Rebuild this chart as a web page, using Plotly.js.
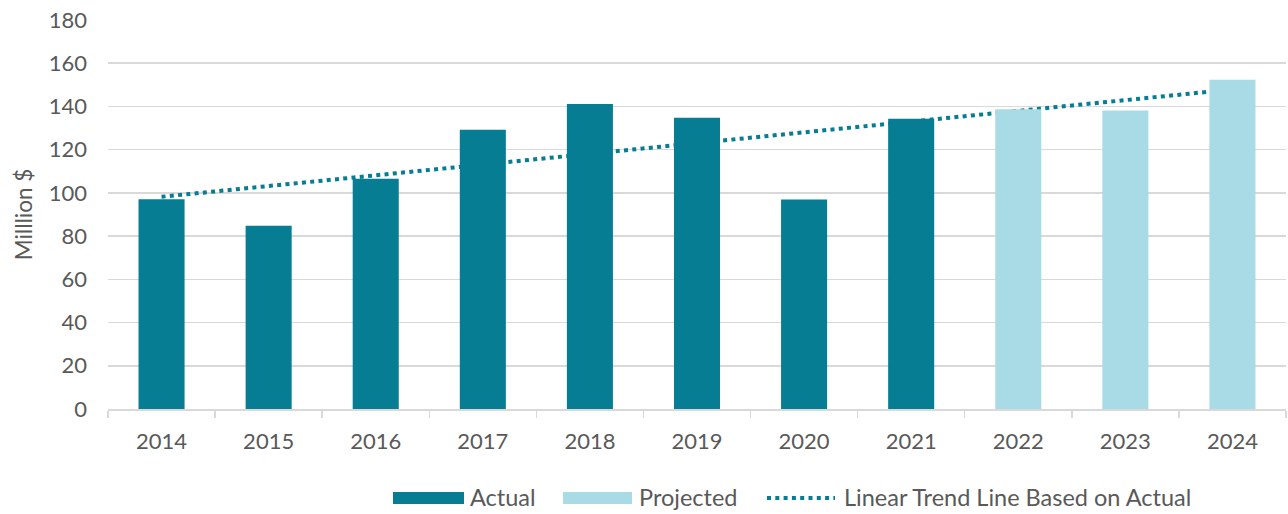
<!DOCTYPE html>
<html>
<head>
<meta charset="utf-8">
<script src="https://cdn.plot.ly/plotly-3.0.1.min.js"></script>
<style>html,body{margin:0;padding:0;background:#fff;}#chart{width:1288px;height:514px;}</style>
</head>
<body>
<div id="chart"></div>
<script>
var years = ["2014","2015","2016","2017","2018","2019","2020","2021","2022","2023","2024"];
var actualYears = ["2014","2015","2016","2017","2018","2019","2020","2021"];
var actualValues = [97, 84.8, 106.5, 129.2, 141.1, 134.8, 96.9, 134.3];
var projectedYears = ["2022","2023","2024"];
var projectedValues = [138.7, 138.1, 152.3];
var trendYears = ["2014","2024"];
var trendValues = [98.2, 147.9];
var yTicks = [0,20,40,60,80,100,120,140,160,180];
var legendLabels = ["Actual", "Projected", "Linear Trend Line Based on Actual"];

var colActual = "#067D92", colProj = "#A8DBE5";
var font = {family: "Lato, 'Open Sans', sans-serif", color: "#595959"};
function f(s){ return Object.assign({size:s}, font); }

// layout geometry (pixels)
var W = 1288, H = 514, L = 108, R = 2, T = 20, B = 105;
var PW = W - L - R, PH = H - T - B;
function px(x){ return (x - L) / PW; }
function py(y){ return (H - B - y) / PH; }

var data = [
  {type:"scatter", mode:"lines", name:legendLabels[2],
   x: trendYears, y: trendValues, xaxis:"x", yaxis:"y",
   line:{color:colActual, width:4, dash:"4px,4.3px"}, hoverinfo:"skip"},
  {type:"bar", name:legendLabels[0], x: actualYears, y: actualValues, xaxis:"x2", yaxis:"y2",
   marker:{color:colActual}, width:0.43},
  {type:"bar", name:legendLabels[1], x: projectedYears, y: projectedValues, xaxis:"x2", yaxis:"y2",
   marker:{color:colProj}, width:0.43}
];

var catAxis = {type:"category", categoryorder:"array", categoryarray: years,
  range:[-0.5,10.5], fixedrange:true};

var legY = 498;
var shapes = [
  {type:"rect", xref:"paper", yref:"paper", x0:px(393), x1:px(464), y0:py(legY-6), y1:py(legY+6),
   fillcolor:colActual, line:{width:0}},
  {type:"rect", xref:"paper", yref:"paper", x0:px(563), x1:px(632), y0:py(legY-6), y1:py(legY+6),
   fillcolor:colProj, line:{width:0}},
  {type:"line", xref:"paper", yref:"paper", x0:px(767), x1:px(835), y0:py(legY), y1:py(legY),
   line:{color:colActual, width:4, dash:"4px,4.3px"}}
];
var annX = [469, 638, 843];
var annotations = legendLabels.map(function(t, i){
  return {text:t, xref:"paper", yref:"paper", x:px(annX[i]), y:py(legY - 1),
          xanchor:"left", yanchor:"middle", showarrow:false, font:f(23.5), borderpad:0};
});

var layout = {
  width:W, height:H,
  margin:{l:L, r:R, t:T, b:B, autoexpand:false},
  paper_bgcolor:"#fff", plot_bgcolor:"#fff",
  font: f(22),
  barmode:"overlay",
  showlegend:false,
  xaxis:Object.assign({}, catAxis, {
         tickfont:f(22), ticks:"outside", ticklen:7, tickcolor:"#d9d9d9", tickwidth:1.5,
         tickson:"boundaries", ticklabelstandoff:12,
         showline:true, linecolor:"#d9d9d9", linewidth:1.5, showgrid:false}),
  yaxis:{range:[0,180], tickvals:yTicks, showgrid:true, gridcolor:"#d9d9d9", gridwidth:1.5,
         zeroline:false, showline:false, ticks:"", ticklabelstandoff:20,
         tickfont:f(22),
         title:{text:"Milllion $", font:f(22.5), standoff:9}},
  xaxis2:Object.assign({}, catAxis, {overlaying:"x", visible:false, showgrid:false}),
  yaxis2:{range:[0,180], overlaying:"y", visible:false, showgrid:false, zeroline:false},
  shapes:shapes,
  annotations:annotations
};

Plotly.newPlot("chart", data, layout, {displayModeBar:false, staticPlot:true});
</script>
</body>
</html>
